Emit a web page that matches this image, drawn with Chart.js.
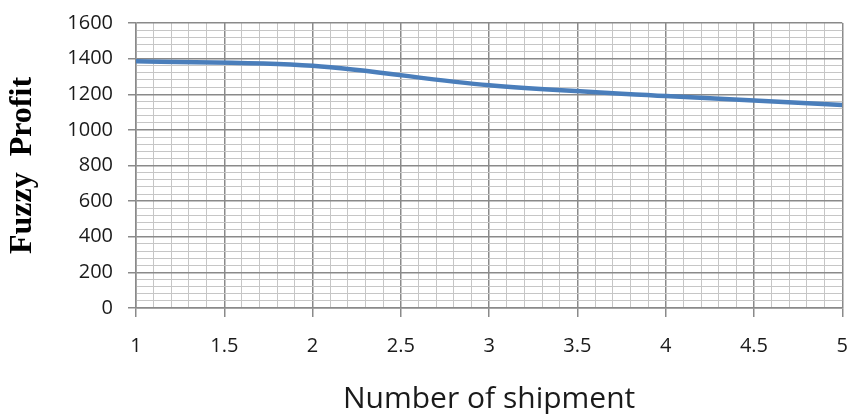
<!DOCTYPE html>
<html>
<head>
<meta charset="utf-8">
<script src="https://cdn.jsdelivr.net/npm/chart.js@4/dist/chart.umd.min.js"></script>
<style>
  html, body { margin: 0; padding: 0; background: #fff; overflow: hidden; }
  #wrap { width: 865px; height: 414px; }
</style>
</head>
<body>
<div id="wrap"><canvas id="lineChart" width="865" height="414"></canvas></div>
<script>
// number of shipments and the fuzzy profit
var shipments = [1, 2, 3, 4, 5];
var fuzzyProfit = [1385, 1360, 1250, 1190, 1140];

var xMin = 1, xMax = 5, xStep = 0.1, xLabelStep = 0.5;
var yMin = 0, yMax = 1600, yStep = 40, yLabelStep = 200;

function isMajor(v, step) {
    var q = v / step;
    return Math.abs(q - Math.round(q)) < 1e-6;
}

var points = shipments.map(function (s, i) {
    return { x: s, y: fuzzyProfit[i] };
});

var ctxL = document.getElementById("lineChart").getContext('2d');
var myLineChart = new Chart(ctxL, {
    type: 'line',
    data: {
        datasets: [{
            label: 'Fuzzy Profit',
            data: points,
            borderColor: '#4a7ebb',
            backgroundColor: '#4a7ebb',
            borderWidth: 4.5,
            pointRadius: 0,
            fill: false,
            cubicInterpolationMode: 'monotone'
        }]
    },
    options: {
        responsive: false,
        animation: false,
        layout: { padding: { top: 23, right: 14, bottom: 0, left: 0 } },
        plugins: {
            legend: { display: false },
            tooltip: { enabled: false }
        },
        scales: {
            x: {
                type: 'linear',
                min: xMin,
                max: xMax,
                afterFit: function (scale) { scale.height = 106; },
                border: { display: true, color: '#8a8a8a', width: 1.5 },
                grid: {
                    color: function (c) { return isMajor(c.tick.value, xLabelStep) ? '#8a8a8a' : '#c6c6c6'; },
                    lineWidth: function (c) { return isMajor(c.tick.value, xLabelStep) ? 1.5 : 1; },
                    tickColor: function (c) { return isMajor(c.tick.value, xLabelStep) ? '#8a8a8a' : 'rgba(0,0,0,0)'; },
                    tickLength: 9
                },
                ticks: {
                    stepSize: xStep,
                    autoSkip: false,
                    maxRotation: 0,
                    padding: 17,
                    color: '#1a1a1a',
                    font: { family: 'Open Sans', size: 20 },
                    callback: function (v) { return isMajor(v, xLabelStep) ? String(Math.round(v * 10) / 10) : ''; }
                },
                title: {
                    display: true,
                    text: 'Number of shipment',
                    color: '#1a1a1a',
                    font: { family: 'Open Sans', size: 30, lineHeight: 1.0 },
                    padding: { top: 0, bottom: 0 }
                }
            },
            y: {
                min: yMin,
                max: yMax,
                afterFit: function (scale) { scale.width = 136; },
                border: { display: true, color: '#8a8a8a', width: 1.5 },
                grid: {
                    color: function (c) { return isMajor(c.tick.value, yLabelStep) ? '#8a8a8a' : '#c6c6c6'; },
                    lineWidth: function (c) { return isMajor(c.tick.value, yLabelStep) ? 1.5 : 1; },
                    tickColor: function (c) { return isMajor(c.tick.value, yLabelStep) ? '#8a8a8a' : 'rgba(0,0,0,0)'; },
                    tickLength: 8
                },
                ticks: {
                    stepSize: yStep,
                    autoSkip: false,
                    padding: 15,
                    color: '#1a1a1a',
                    font: { family: 'Open Sans', size: 20, lineHeight: 0.5 },
                    callback: function (v) { return isMajor(v, yLabelStep) ? String(v) : ''; }
                },
                title: {
                    display: true,
                    text: 'Fuzzy  Profit',
                    color: '#000',
                    font: { family: 'Liberation Serif', size: 32, weight: 'bold' },
                    padding: { top: 4, bottom: 0 }
                }
            }
        }
    }
});
</script>
</body>
</html>
